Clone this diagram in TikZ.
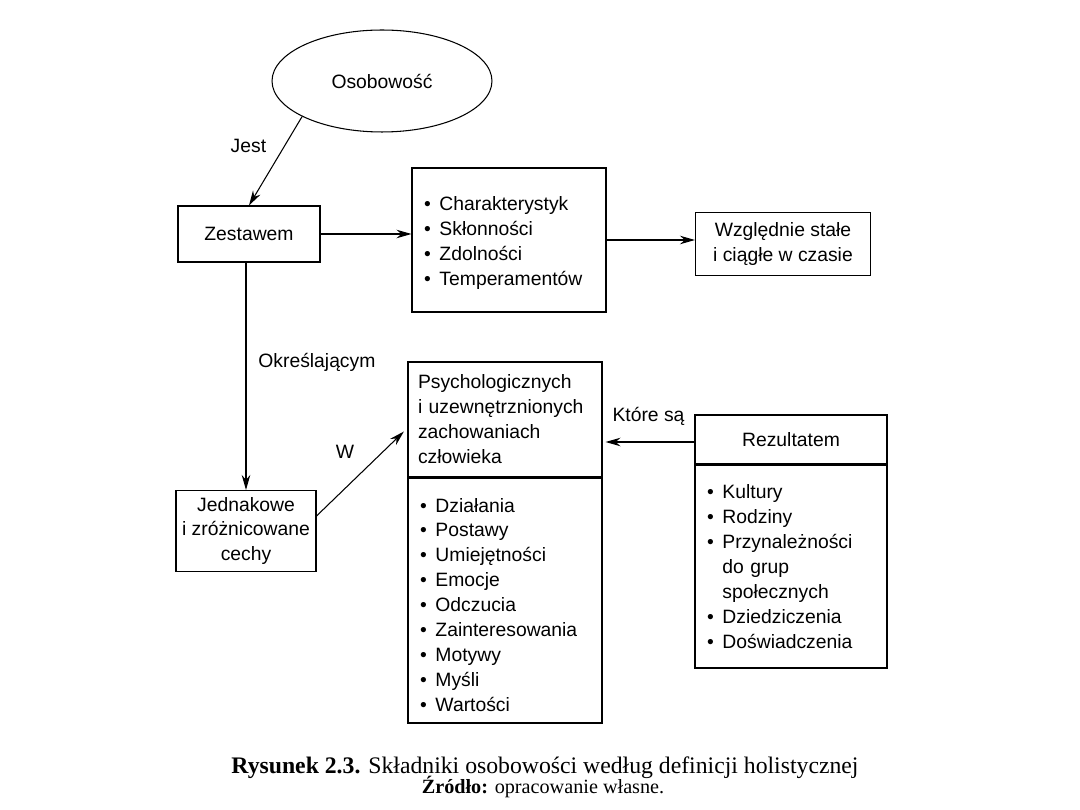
\documentclass[tikz,border=0pt]{standalone}
\usepackage{fontspec}
\setmainfont{Liberation Sans}
\newfontfamily\serifcap{Liberation Serif}
\usetikzlibrary{positioning,arrows.meta,shapes.geometric}
\newcommand{\pkt}{\textbullet\hspace{0.45em}}
\newcommand{\wcieta}{\phantom{\textbullet}\hspace{0.45em}}

\begin{document}
\begin{tikzpicture}[x=0.02cm,y=-0.02cm,->,>={Stealth[length=3mm,width=1.7mm]},
    semithick,font=\fontsize{11}{14.2}\selectfont,
    blok/.style={draw,rectangle,inner sep=0pt,align=center},
    lista/.style={draw,rectangle,inner ysep=0pt,inner xsep=0.24cm,align=left}]
  \useasboundingbox (0,0) rectangle (1080,810);
  \node[draw,ellipse,minimum width=4.4cm,minimum height=2.04cm] (osob) at (382,81) {Osobowość};
  \node[blok,minimum width=2.84cm,minimum height=1.12cm] (zest) at (249,234) {Zestawem};
  \node[lista,text width=3.4cm,minimum height=2.88cm] (cech) at (509,240)
    {\rule{0pt}{11pt}\pkt Charakterystyk\\ \pkt Skłonności\\ \pkt Zdolności\\ \pkt Temperamentów};
  \node[blok,minimum width=3.5cm,minimum height=1.26cm] (wzgl) at (783,244)
    {Względnie stałe\\ i ciągłe w czasie};
  \node[blok,minimum width=2.8cm,minimum height=1.62cm] (jedn) at (246,531)
    {Jednakowe\\ i zróżnicowane\\ cechy};
  \node[lista,inner xsep=0.2cm,text width=3.48cm,minimum height=2.3cm] (psychHead) at (505,419.5)
    {Psychologicznych\\ i uzewnętrznionych\\ zachowaniach\\ człowieka};
  \node[lista,text width=3.4cm,minimum height=4.9cm,below=0pt of psychHead] (psychList)
    {\rule{0pt}{13pt}\pkt Działania\\ \pkt Postawy\\ \pkt Umiejętności\\ \pkt Emocje\\ \pkt Odczucia\\
     \pkt Zainteresowania\\ \pkt Motywy\\ \pkt Myśli\\ \pkt Wartości};
  \node[blok,minimum width=3.84cm,minimum height=0.98cm] (rezHead) at (791,439.5) {Rezultatem};
  \node[lista,text width=3.36cm,minimum height=4.06cm,below=0pt of rezHead] (rezList)
    {\pkt Kultury\\ \pkt Rodziny\\ \pkt Przynależności\\ \wcieta do grup\\ \wcieta społecznych\\
     \pkt Dziedziczenia\\ \pkt Doświadczenia};
  \path (osob.204) edge node[pos=0.33,left=2.4mm] {Jest} (zest.north)
        (zest.east) edge (zest.east -| cech.west)
        (cech.east) edge (cech.east -| wzgl.west)
        (jedn.north |- zest.south) edge node[pos=0.44,right=1.2mm] {Określającym} (jedn.north)
        (jedn.12) edge[shorten >=1mm] node[pos=0.5,xshift=-3.4mm,yshift=4mm] {W} (psychHead.185)
        (rezHead.west |- 0,442) edge[shorten >=0.6mm] node[midway,above=2mm] {Które są} (psychHead.east |- 0,442);
  \node[font=\serifcap\fontsize{13.5}{16}\selectfont] (podpis) at (545,768)
    {\textbf{Rysunek 2.3.} Składniki osobowości według definicji holistycznej};
  \node[font=\serifcap\fontsize{11.5}{14}\selectfont] (zrodlo) at (543,787)
    {\textbf{Źródło:} opracowanie własne.};
\end{tikzpicture}
\end{document}
